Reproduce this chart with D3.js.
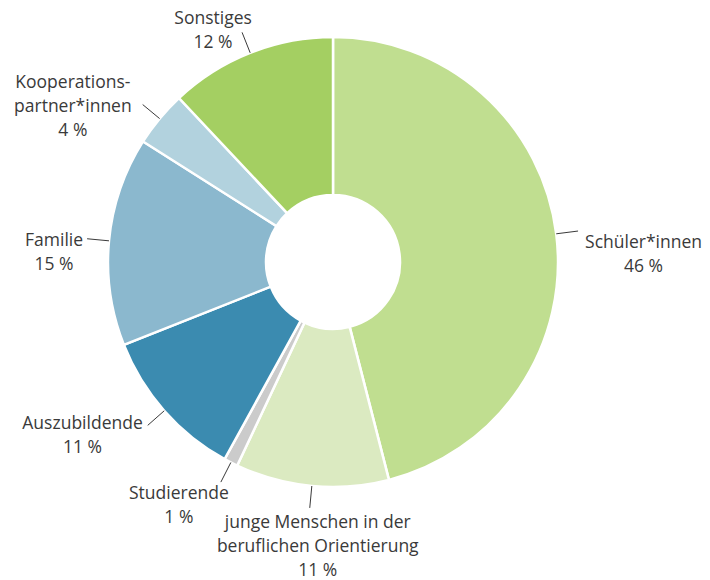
<!DOCTYPE html>
<html lang="de">
<head>
<meta charset="UTF-8">
<title>Donut</title>
<script src="https://d3js.org/d3.v7.min.js"></script>
<style>
  body { margin: 0; background: #fff; }
  text { font-family: "Open Sans", "Noto Sans", sans-serif; font-size: 17.5px; fill: #3a3a3a; }
</style>
</head>
<body>
<script>
// data
const categories = ["Schüler*innen", "junge Menschen in der beruflichen Orientierung", "Studierende",
                    "Auszubildende", "Familie", "Kooperationspartner*innen", "Sonstiges"];
const labelLines = [["Schüler*innen"], ["junge Menschen in der", "beruflichen Orientierung"], ["Studierende"],
                    ["Auszubildende"], ["Familie"], ["Kooperations-", "partner*innen"], ["Sonstiges"]];
const shares = [46, 11, 1, 11, 15, 4, 12];
const colors = ["#c0de90", "#dbeac1", "#cbcbcb", "#3b8bb0", "#8bb8ce", "#b2d2de", "#a4cf62"];

// label placement relative to leader end: anchor side, dx, dy of first line centre
const labelLayout = [
  { anchor: "start", dx: 7, dy: 11 },
  { anchor: "middle", dx: 8, dy: 14 },
  { anchor: "middle", dx: -42, dy: 11 },
  { anchor: "end", dx: -5, dy: -2 },
  { anchor: "end", dx: -4, dy: 1 },
  { anchor: "end", dx: -11, dy: -23 },
  { anchor: "middle", dx: -29, dy: -14 }
];

const width = 710, height = 580;
const cx = 333, cy = 262, rOuter = 225, rInner = 67, rLead = 247, lineH = 24;

const svg = d3.select("body").append("svg")
    .attr("width", width)
    .attr("height", height);

const g = svg.append("g").attr("transform", `translate(${cx},${cy})`);

const data = categories.map((c, i) => ({ name: c, lines: labelLines[i], value: shares[i], color: colors[i], layout: labelLayout[i] }));

const pie = d3.pie().value(d => d.value).sort(null);
const arcs = pie(data);

const arc = d3.arc().innerRadius(rInner).outerRadius(rOuter);
const edgeArc = d3.arc().innerRadius(rOuter).outerRadius(rOuter);
const leadArc = d3.arc().innerRadius(rLead).outerRadius(rLead);

// slices
g.selectAll("path.slice")
  .data(arcs)
  .join("path")
    .attr("class", "slice")
    .attr("d", arc)
    .attr("fill", d => d.data.color)
    .attr("stroke", "#fff")
    .attr("stroke-width", 2.5);

// leader lines
g.selectAll("line.leader")
  .data(arcs)
  .join("line")
    .attr("class", "leader")
    .attr("x1", d => edgeArc.centroid(d)[0])
    .attr("y1", d => edgeArc.centroid(d)[1])
    .attr("x2", d => leadArc.centroid(d)[0])
    .attr("y2", d => leadArc.centroid(d)[1])
    .attr("stroke", "#3a3a3a")
    .attr("stroke-width", 1);

// labels
arcs.forEach(d => {
  const [ex, ey] = leadArc.centroid(d);
  const lay = d.data.layout;
  const lines = d.data.lines.concat([d.data.value + " %"]);
  const t = g.append("text").attr("text-anchor", "middle");
  lines.forEach((l, i) => {
    t.append("tspan")
      .attr("x", 0)
      .attr("y", i * lineH)
      .attr("dy", "0.35em")
      .text(l);
  });
  let w = 0;
  t.selectAll("tspan").each(function() { w = Math.max(w, this.getComputedTextLength()); });
  let bx = ex + lay.dx;
  if (lay.anchor === "start") bx += w / 2;
  if (lay.anchor === "end") bx -= w / 2;
  t.attr("transform", `translate(${bx},${ey + lay.dy})`);
});
</script>
</body>
</html>
